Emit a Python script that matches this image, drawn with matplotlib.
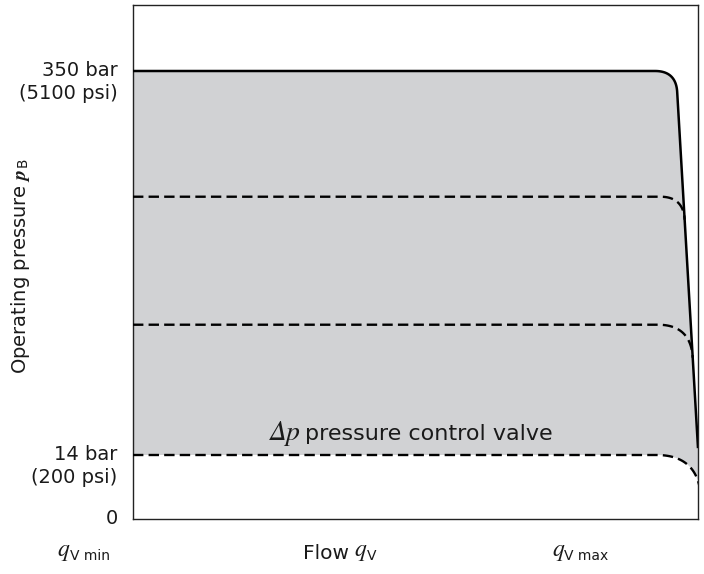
import numpy as np
import matplotlib
matplotlib.use("Agg")
import matplotlib.pyplot as plt
import matplotlib.transforms as mtrans

plt.rcParams["font.family"] = ["DejaVu Sans"]
plt.rcParams["mathtext.fontset"] = "custom"
plt.rcParams["mathtext.it"] = "STIXGeneral:italic"
plt.rcParams["mathtext.bf"] = "STIXGeneral:italic:bold"
plt.rcParams["mathtext.rm"] = "DejaVu Sans"

# Pressure levels (bar): maximum setting, two intermediate settings, Δp valve
levels_bar = [350, 240, 128, 14]
level_styles = ["solid", "dashed", "dashed", "dashed"]
corner_px = [21, 23, 33, 42]

# Flow drop-off near maximum flow: (relative flow, pressure in bar)
knee_flow, knee_bar = 0.963, 333
edge_flow, edge_bar = 1.0, 20

tick_bar = [350, 14, 0]
tick_labels = [("350 bar", "(5100 psi)"), ("14 bar", "(200 psi)"), ("0", "")]

TXT = "#1a1a1a"


# Schematic pressure axis: 0-14 bar and 14-350 bar are drawn to different scales
def fwd(p):
    p = np.asarray(p, dtype=float)
    return np.where(p <= 14, p * 64 / 14, 64 + (p - 14) * 384 / 336)


def inv(u):
    u = np.asarray(u, dtype=float)
    return np.where(u <= 64, u * 14 / 64, 14 + (u - 64) * 336 / 384)


FW, FH = 704, 574
fig = plt.figure(figsize=(FW / 100, FH / 100), dpi=100)
ax = fig.add_axes([133 / FW, 1 - 519 / FH, 565 / FW, 514 / FH])
ax.set_yscale("function", functions=(fwd, inv))
ax.set_xlim(0, 1)
ax.set_ylim(0, float(inv(514)))

XW = 565.0  # horizontal pixel span used for shaping the corners

# droop line in (pixel-x, scaled-u) space
k_x, k_u = knee_flow * XW, float(fwd(knee_bar))
e_x, e_u = edge_flow * XW, float(fwd(edge_bar))


def line_x(u):
    return k_x + (u - k_u) * (e_x - k_x) / (e_u - k_u)


def curve(level, r, solid):
    L = float(fwd(level))
    xi = line_x(L)
    x0 = xi - r
    t = np.linspace(0, 1, 80)
    ue = L - r
    xe = line_x(ue)
    bx = (1 - t) ** 2 * x0 + 2 * (1 - t) * t * xi + t ** 2 * xe
    bu = (1 - t) ** 2 * L + 2 * (1 - t) * t * L + t ** 2 * ue
    xs = np.concatenate([[0.0], bx])
    us = np.concatenate([[L], bu])
    if solid:
        xs = np.concatenate([xs, [e_x]])
        us = np.concatenate([us, [e_u]])
    return xs / XW, inv(us)


curves = [curve(lv, r, st == "solid") for lv, r, st in zip(levels_bar, corner_px, level_styles)]

# shaded working range between maximum pressure and the Δp valve level
top_x, top_p = curves[0]
bot_x, bot_p = curves[-1]
poly_x = np.concatenate([top_x, bot_x[::-1]])
poly_p = np.concatenate([top_p, bot_p[::-1]])
ax.fill(poly_x, poly_p, color="#d1d2d4", lw=0, zorder=1)

for (xs, ps), st in zip(curves, level_styles):
    if st == "solid":
        ax.plot(xs, ps, color="black", lw=1.8, zorder=3, solid_capstyle="butt")
    else:
        ax.plot(xs, ps, color="black", lw=1.7, zorder=3, dashes=(4.4, 2.2))

ax.set_xticks([])
ax.set_yticks([])
for s in ax.spines.values():
    s.set_linewidth(1.0)
    s.set_color("#222222")

# pressure tick labels
tr = mtrans.blended_transform_factory(ax.transAxes, ax.transData)
for p, (l1, l2) in zip(tick_bar, tick_labels):
    ax.text(-0.027, p, l1, transform=tr, ha="right", va="center", fontsize=14, color=TXT)
    if l2:
        ax.text(-0.027, p, l2,
                transform=tr + mtrans.ScaledTranslation(0, -16.5 / 72, fig.dpi_scale_trans),
                ha="right", va="center", fontsize=14, color=TXT)


def fx(px):
    return px / FW


def fy(py):
    return 1 - py / FH


# Δp pressure control valve
fig.text(fx(301), fy(440), "Δp", ha="right", va="baseline", fontsize=20,
         family="STIXGeneral", style="italic", color=TXT)
fig.text(fx(305), fy(440), "pressure control valve", ha="left", va="baseline",
         fontsize=16, color=TXT)

fig.text(fx(21), fy(266), r"Operating pressure $\mathbf{p}_{\mathrm{B}}$", rotation=90,
         ha="center", va="center", fontsize=14, color=TXT)


def flow_symbol(x_px, base_px, sub):
    fig.text(fx(x_px), fy(base_px), "q", ha="left", va="baseline", fontsize=17,
             family="STIXGeneral", style="italic", color=TXT)
    fig.text(fx(x_px + 12.5), fy(base_px + 4), sub, ha="left", va="baseline",
             fontsize=10, color=TXT)


base = 556
flow_symbol(57, base, "V min")
fig.text(fx(303), fy(base + 3), "Flow", ha="left", va="baseline", fontsize=14.5, color=TXT)
flow_symbol(354, base, "V")
flow_symbol(552, base, "V max")

fig.savefig("out.png", dpi=100)
